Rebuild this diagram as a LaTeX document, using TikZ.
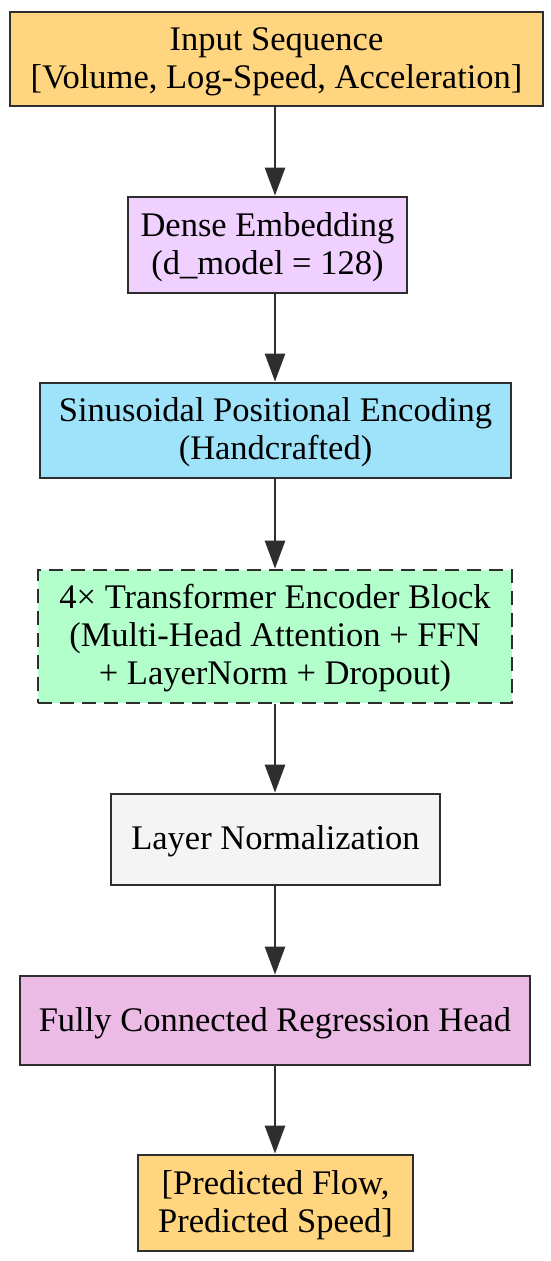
\documentclass[tikz,border=0pt]{standalone}
\usepackage{fontspec}
\setmainfont{Liberation Serif}
\usetikzlibrary{arrows.meta}
\definecolor{cInput}{HTML}{FFD57F}
\definecolor{cDense}{HTML}{F0D0FF}
\definecolor{cPos}{HTML}{9FE3FA}
\definecolor{cTrans}{HTML}{B3FFCC}
\definecolor{cNorm}{HTML}{F4F4F4}
\definecolor{cHead}{HTML}{EBBBE5}
\definecolor{cLine}{HTML}{2E2E2E}
\tikzset{
  box/.style={draw=cLine, line width=2.8pt, rectangle, inner sep=0pt},
  txt/.style={inner sep=0pt, align=center, font=\fontsize{34.5}{38}\selectfont, text=black},
  conn/.style={draw=cLine, line width=2.8pt, -{Triangle[length=28pt,width=20pt]}},
}
\begin{document}
\begin{tikzpicture}[x=1pt,y=-1pt]
\useasboundingbox (0,0) rectangle (550,1261);
\node[box, fill=cInput, minimum width=533pt, minimum height=94pt] (in) at (276.5,59) {};
\node[box, fill=cDense, minimum width=279pt, minimum height=96pt] (emb) at (267.5,245) {};
\node[box, fill=cPos, minimum width=471pt, minimum height=95pt] (pos) at (275.5,430.5) {};
\node[box, fill=cTrans, dash pattern=on 14pt off 8pt, minimum width=474pt, minimum height=133pt] (enc) at (275,636.5) {};
\node[box, fill=cNorm, minimum width=329pt, minimum height=91pt] (ln) at (275.5,839.5) {};
\node[box, fill=cHead, minimum width=510pt, minimum height=89pt] (head) at (275,1020.5) {};
\node[box, fill=cInput, minimum width=275pt, minimum height=96pt] (out) at (275.5,1203) {};
\node[txt] (inT) at ([yshift=-3pt]in.center) {Input Sequence\\{}[Volume, Log-Speed, Acceleration]};
\node[txt] (embT) at ([yshift=-2pt]emb.center) {Dense Embedding\\(d\_model = 128)};
\node[txt] (posT) at ([yshift=-2pt]pos.center) {Sinusoidal Positional Encoding\\(Handcrafted)};
\node[txt] (encT) at ([yshift=-2pt]enc.center) {4× Transformer Encoder Block\\(Multi-Head Attention + FFN\\+ LayerNorm + Dropout)};
\node[txt] (lnT) at ([yshift=-2pt]ln.center) {Layer Normalization};
\node[txt] (headT) at ([yshift=-3pt]head.center) {Fully Connected Regression Head};
\node[txt] (outT) at ([yshift=-2pt]out.center) {[Predicted Flow,\\Predicted Speed]};
\draw[conn] (in.south -| 275,0) -- (emb.north -| 275,0);
\draw[conn] (emb.south -| 275,0) -- (pos.north -| 275,0);
\draw[conn] (pos.south -| 275,0) -- (enc.north -| 275,0);
\draw[conn] (enc.south -| 275,0) -- (ln.north -| 275,0);
\draw[conn] (ln.south -| 275,0) -- (head.north -| 275,0);
\draw[conn] (head.south -| 275,0) -- (out.north -| 275,0);
\end{tikzpicture}
\end{document}
